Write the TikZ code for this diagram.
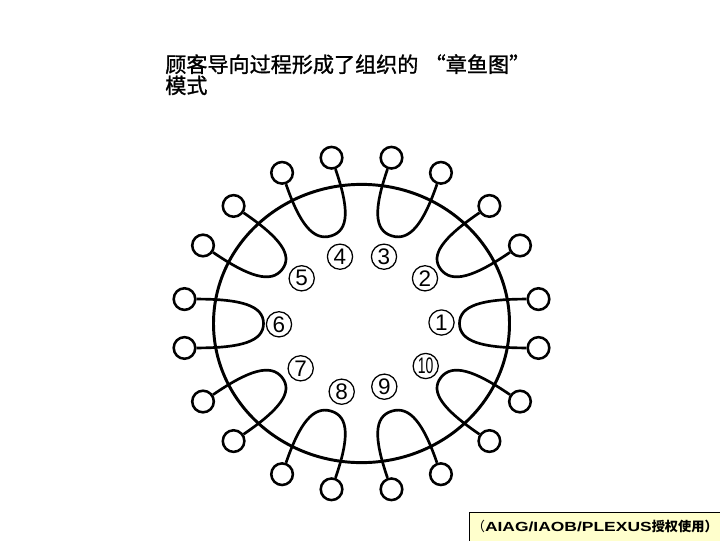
\documentclass[tikz,border=0pt]{standalone}
\usepackage{fontspec}
\setmainfont{Liberation Sans}
\newfontfamily\cjk{Noto Sans CJK SC}
\newfontfamily\cjkhead{Noto Sans CJK SC}[FakeBold=1.2]
\definecolor{creditfill}{HTML}{FFFFCC}

\tikzset{
  rim/.style={line width=2.1pt},
  arm/.style={line width=1.9pt},
  bulb/.style={circle, draw, line width=1.8pt, minimum size=0.54cm, inner sep=0pt},
  num/.style={circle, draw, line width=0.9pt, minimum size=0.63cm, inner sep=0pt,
    font=\fontsize{16}{16}\selectfont},
}

\begin{document}
\begin{tikzpicture}[x=0.025cm, y=0.025cm]
  \useasboundingbox (-361.5,-216.5) rectangle (358.5,323.5);

  % Title
  \node[anchor=north west, inner sep=0pt, align=left,
    font=\cjkhead\fontsize{15}{15}\selectfont] (title) at (-196.5,269.5)
    {顾客导向过程形成了组织的\hspace{0.3em}“章鱼图”\\模式};

  % Body and arms (octopus)
  \begin{scope}[yscale=0.94]
    \draw[rim] (0,0) circle (148);
    \foreach \k in {1,...,10} {
      \begin{scope}[rotate={(\k-1)*36}]
        \node[bulb] (b-\k-l) at (177,26) {};
        \node[bulb] (b-\k-r) at (177,-26) {};
        \draw[arm] (b-\k-l) .. controls (120,26) and (98,19) .. (98,0)
          .. controls (98,-19) and (120,-26) .. (b-\k-r);
      \end{scope}
    }
  \end{scope}

  % Process numbers
  \foreach \n/\px/\py in {1/80/1, 2/63.5/45.2, 3/22.5/66.8, 4/-21.5/66.8,
      5/-59.8/45.2, 6/-82.5/-0.8, 7/-60.8/-44.8, 8/-19.8/-68.2, 9/22.8/-63.2} {
    \node[num] (n-\n) at (\px,\py) {\n};
  }
  \node[num] (n-10) at (64.2,-42.5) {\scalebox{0.62}[1]{10}};

  % Credit box
  \draw[fill=creditfill, line width=0.6pt] (107.5,-188.5) rectangle (365,-222);
  \node[anchor=west, inner sep=0pt, font=\fontsize{9.4}{9.4}\selectfont] (credit) at (110,-202.5)
    {{\cjk （}{\bfseries\scalebox{1.32}[1]{AIAG/IAOB/PLEXUS}}{\cjk\bfseries 授权使用）}};
\end{tikzpicture}
\end{document}
